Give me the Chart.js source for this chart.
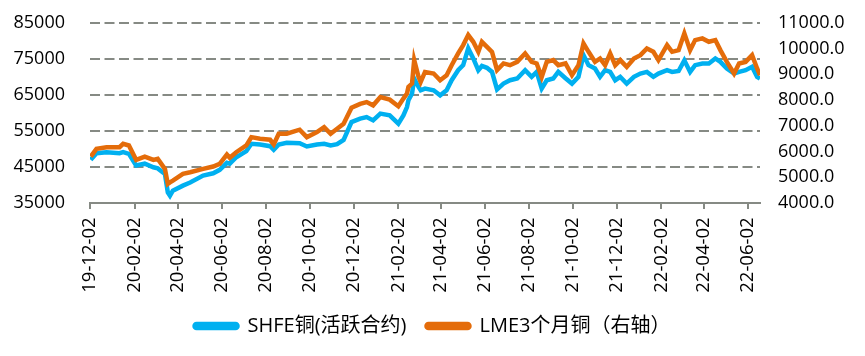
<!DOCTYPE html>
<html><head><meta charset="utf-8">
<script src="https://cdn.jsdelivr.net/npm/chart.js@4.4.1/dist/chart.umd.min.js"></script>
<style>html,body{margin:0;padding:0;background:#fff}#wrap{width:865px;height:356px}</style>
</head><body><div id="wrap"><canvas id="c" width="865" height="356"></canvas></div>
<script>
const dates = [
'2019-12-03','2019-12-11','2019-12-25','2020-01-12','2020-01-17','2020-01-25','2020-02-04','2020-02-16','2020-02-28',
'2020-03-05','2020-03-15','2020-03-19','2020-03-22','2020-03-26','2020-04-09','2020-04-19','2020-05-07','2020-05-21','2020-05-30',
'2020-06-09','2020-06-13','2020-06-22','2020-07-06','2020-07-13','2020-07-25','2020-08-08','2020-08-13','2020-08-20','2020-08-31',
'2020-09-18','2020-09-28','2020-10-12','2020-10-22','2020-10-31','2020-11-09','2020-11-18','2020-11-29','2020-12-11','2020-12-20',
'2020-12-29','2021-01-08','2021-01-21','2021-02-02','2021-02-09','2021-02-14','2021-02-16','2021-02-21','2021-02-24','2021-03-02',
'2021-03-05','2021-03-11','2021-03-23','2021-04-01','2021-04-10','2021-04-17','2021-04-26','2021-05-03','2021-05-10','2021-05-17',
'2021-05-24','2021-05-29','2021-06-05','2021-06-12','2021-06-19','2021-06-28','2021-07-07','2021-07-17','2021-07-28','2021-08-06',
'2021-08-13','2021-08-20','2021-08-27','2021-09-05','2021-09-12','2021-09-22','2021-10-01','2021-10-10','2021-10-17','2021-10-24',
'2021-11-02','2021-11-09','2021-11-16','2021-11-23','2021-11-30','2021-12-07','2021-12-16','2021-12-26','2022-01-04','2022-01-13',
'2022-01-22','2022-01-29','2022-02-10','2022-02-17','2022-02-26','2022-03-06','2022-03-14','2022-03-21','2022-03-31','2022-04-09',
'2022-04-18','2022-04-25','2022-05-04','2022-05-14','2022-05-21','2022-05-30','2022-06-08','2022-06-15','2022-06-19'
];
const shfe = [
46970,48800,49090,48800,49100,48640,45390,45900,44900,
44600,43070,37950,37030,38420,39820,40700,42600,43240,44190,
46140,45900,47700,49370,51420,51230,50760,49750,51230,51700,
51590,50670,51230,51420,50950,51300,52500,57440,58380,58830,
57910,59780,59300,56990,59300,61610,63480,65350,69500,67180,
66260,66740,66260,64870,66260,69050,71830,73220,77870,75090,
71830,73000,72500,71360,66500,68120,69050,69520,71830,69980,
71360,66740,69050,69520,71360,69600,68120,69980,76020,73220,
72290,69980,71830,71360,69050,69980,68120,69980,70900,71360,
69980,70900,71830,71360,71600,74560,71360,73220,73690,73700,
75090,74150,72290,70900,71360,71830,72760,69980,69520
];
const lme = [
5804,6104,6167,6167,6299,6233,5676,5804,5676,
5715,5325,4740,4800,4869,5130,5193,5325,5415,5520,
5882,5754,5972,6233,6557,6494,6455,6272,6689,6689,
6845,6557,6751,6946,6689,6884,7079,7700,7850,7920,
7792,8115,8014,7753,8053,8248,8505,8638,9548,8900,
8700,9089,9027,8766,8961,9350,9807,10130,10520,10259,
9870,10259,10064,9870,9158,9418,9350,9479,9807,9479,
9418,8895,9479,9548,9350,9418,8961,9350,10196,9870,
9479,9612,9350,9807,9350,9548,9284,9612,9740,10000,
9870,9548,10130,9870,9935,10586,9935,10325,10391,10259,
10325,9935,9479,9027,9418,9479,9740,9222,8961
];
const tickLabels = ['19-12-02','20-02-02','20-04-02','20-06-02','20-08-02','20-10-02','20-12-02','21-02-02',
'21-04-02','21-06-02','21-08-02','21-10-02','21-12-02','22-02-02','22-04-02','22-06-02'];
const seriesNames = ['SHFE铜(活跃合约)','LME3个月铜（右轴）'];

const START = Date.UTC(2019, 11, 2);
function dayOf(s) {
  const p = s.split('-').map(Number);
  const y = p[0] < 100 ? 2000 + p[0] : p[0];
  return Math.round((Date.UTC(y, p[1] - 1, p[2]) - START) / 86400000);
}
const tickDays = tickLabels.map(dayOf);
const xs = dates.map(dayOf);
const GRID = '#868a84';
const FONT = "'Open Sans', 'Noto Sans CJK SC', sans-serif";
function noPad(s) { s.paddingTop = 0; s.paddingBottom = 0; s.paddingLeft = 0; s.paddingRight = 0; }

new Chart(document.getElementById('c'), {
  type: 'line',
  data: {
    datasets: [
      { label: seriesNames[0], data: xs.map((x, i) => ({x, y: shfe[i]})), yAxisID: 'y',
        borderColor: '#00B0F0', backgroundColor: '#00B0F0', borderWidth: 4.5, pointRadius: 0, tension: 0, order: 2 },
      { label: seriesNames[1], data: xs.map((x, i) => ({x, y: lme[i]})), yAxisID: 'y1',
        borderColor: '#E46C0A', backgroundColor: '#E46C0A', borderWidth: 4.5, pointRadius: 0, tension: 0, order: 1 }
    ]
  },
  options: {
    responsive: false, animation: false, devicePixelRatio: 1,
    layout: { padding: { top: 22.7, bottom: 10, left: 0, right: 0 } },
    plugins: {
      tooltip: { enabled: false },
      legend: {
        position: 'bottom',
        labels: { font: { family: FONT, size: 20 }, color: '#000', boxWidth: 43, boxHeight: 4, padding: 20,
          useBorderRadius: true, borderRadius: 2, sort: (a, b) => a.datasetIndex - b.datasetIndex }
      }
    },
    scales: {
      x: {
        type: 'linear', position: 'bottom', min: 0, max: xs[xs.length - 1],
        afterBuildTicks: s => { s.ticks = tickDays.map(v => ({ value: v })); },
        afterFit: s => { s.height = 93; noPad(s); },
        ticks: { autoSkip: false, minRotation: 90, maxRotation: 90, padding: 8.4, color: '#000',
          font: { family: FONT, size: 18.5 }, callback: (v, i) => tickLabels[i] },
        grid: { drawOnChartArea: false, drawTicks: true, tickLength: 6, color: GRID, lineWidth: 2 },
        border: { display: true, color: GRID, width: 2 }
      },
      y: {
        position: 'left', min: 35000, max: 85000,
        afterFit: s => { s.width = 90; noPad(s); },
        ticks: { stepSize: 10000, autoSkip: false, padding: 25, color: '#000', font: { family: FONT, size: 18 },
          callback: v => String(v) },
        grid: { drawTicks: false, lineWidth: 2, color: c => (c.tick && c.tick.value === 35000) ? 'rgba(0,0,0,0)' : GRID },
        border: { display: false, dash: [10, 4.5] }
      },
      y1: {
        position: 'right', min: 4000, max: 11000,
        afterFit: s => { s.width = 105; noPad(s); },
        ticks: { stepSize: 1000, autoSkip: false, padding: 18, color: '#000', font: { family: FONT, size: 18 },
          callback: v => v.toFixed(1) },
        grid: { drawOnChartArea: false, drawTicks: false },
        border: { display: false }
      }
    }
  }
});
</script>
</body></html>
